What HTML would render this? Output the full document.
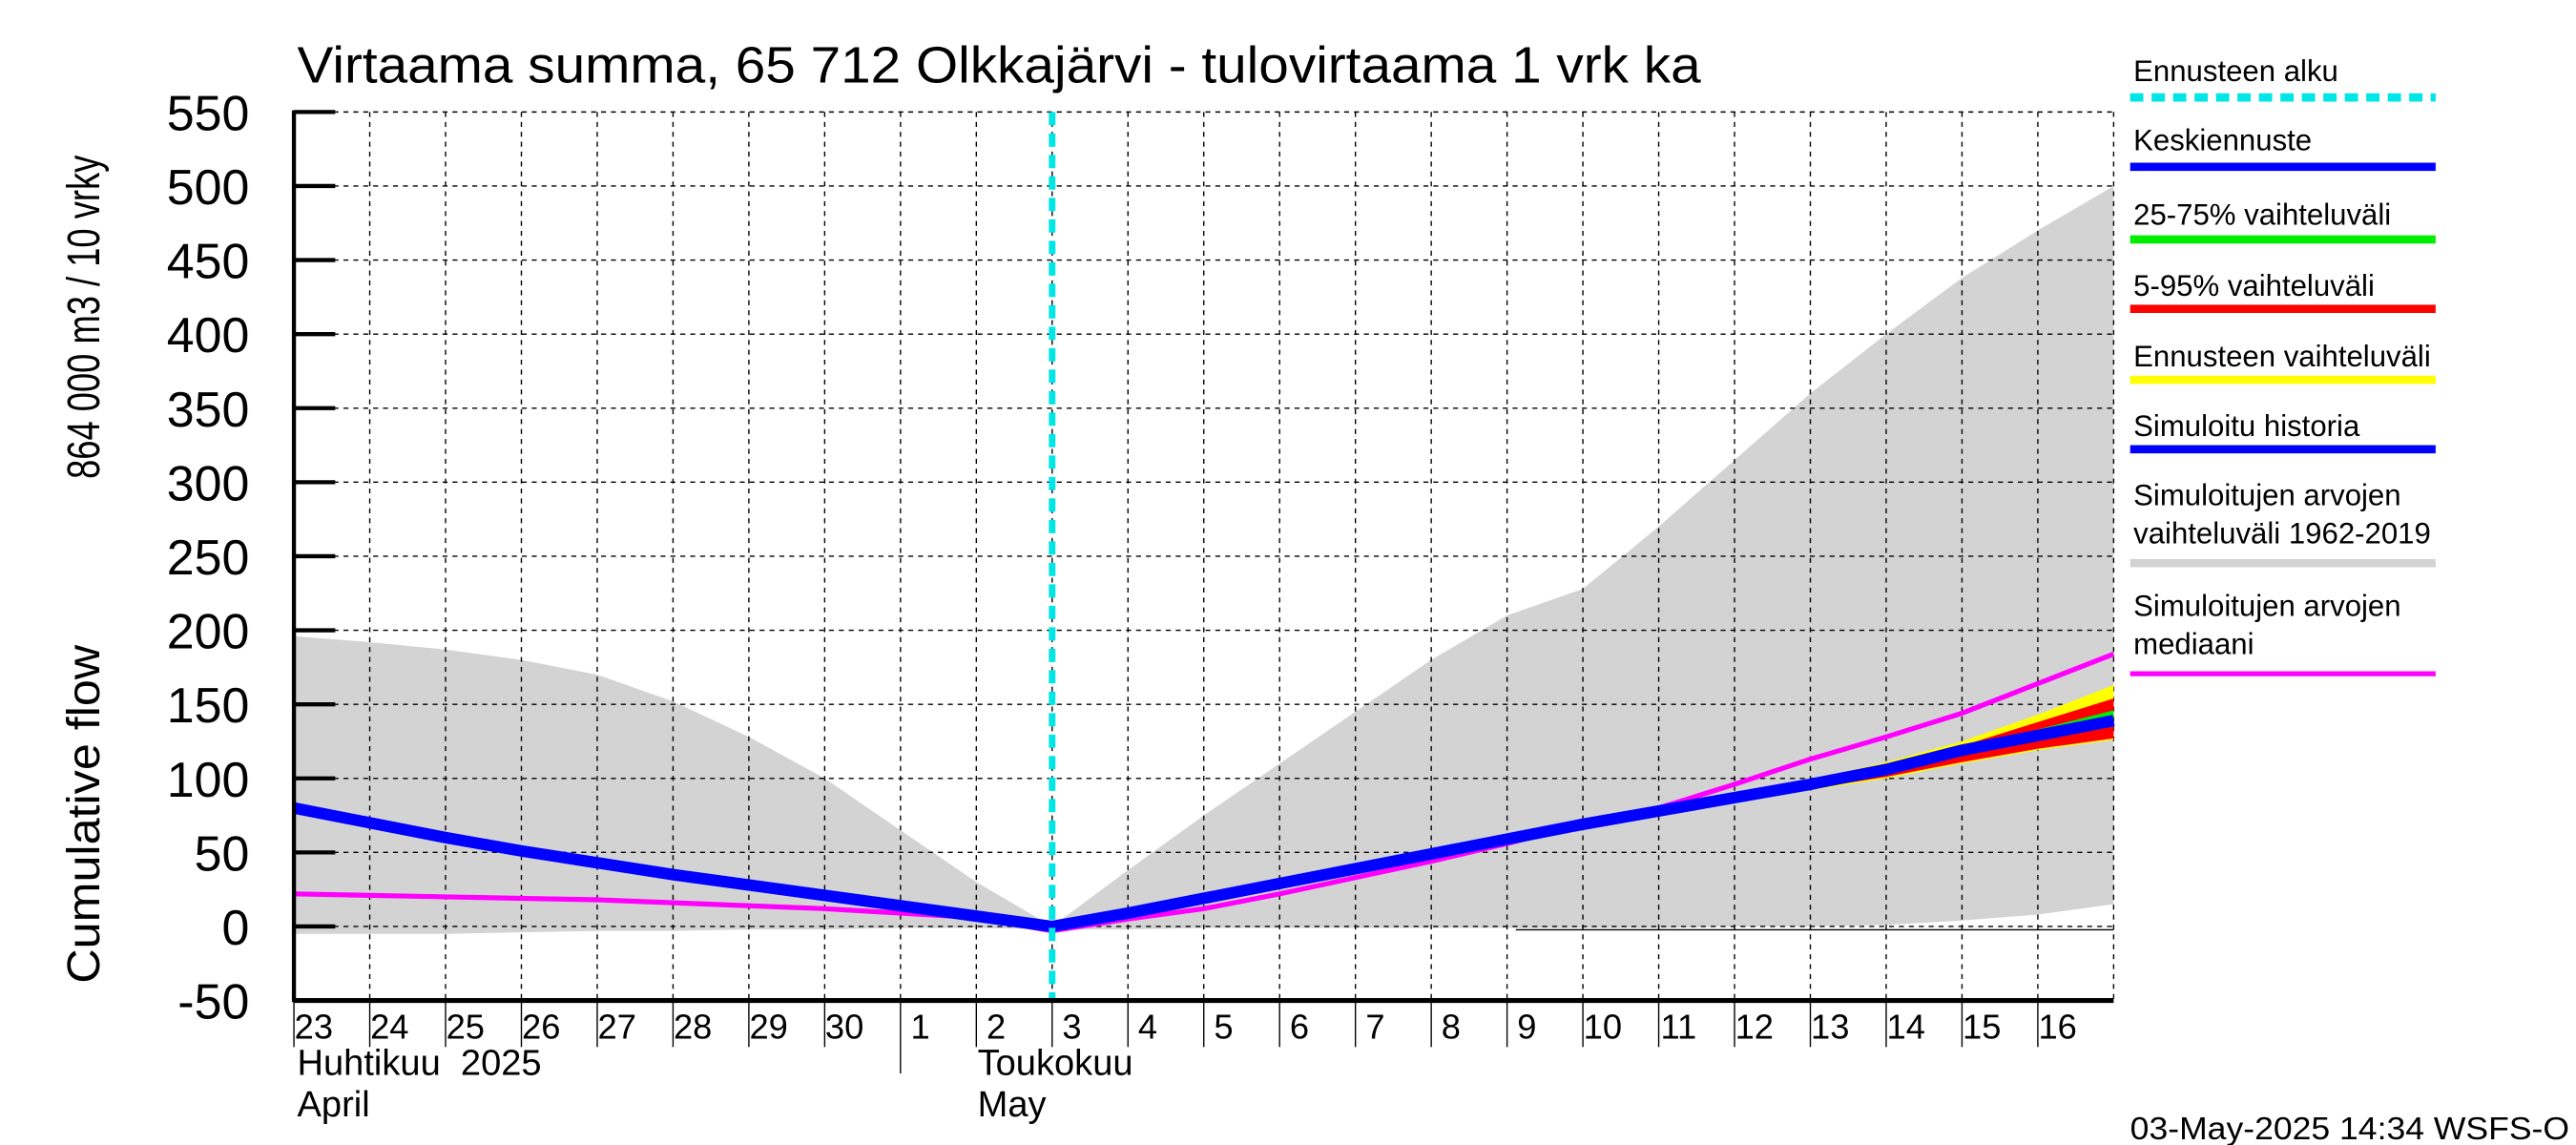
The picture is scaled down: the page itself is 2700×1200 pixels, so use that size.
<!DOCTYPE html>
<html><head><meta charset="utf-8"><style>html,body{margin:0;padding:0;background:#fff}svg{display:block}text{font-family:"Liberation Sans Narrow","Liberation Sans",sans-serif;fill:#000}</style></head>
<body>
<svg id="chart" xmlns="http://www.w3.org/2000/svg" width="2700" height="1200" viewBox="0 0 1560 693.33" preserveAspectRatio="none">
<g id="plot"></g>
<g id="axes"></g>
<g id="legend"></g>
<text x="180" y="50" font-size="31" textLength="850" lengthAdjust="spacingAndGlyphs">Virtaama summa, 65 712 Olkkajärvi - tulovirtaama 1 vrk ka</text>
<text transform="translate(60,192) rotate(-90)" text-anchor="middle" font-size="28" textLength="196" lengthAdjust="spacingAndGlyphs">864 000 m3 / 10 vrky</text>
<text transform="translate(60,493) rotate(-90)" text-anchor="middle" font-size="28" textLength="205" lengthAdjust="spacingAndGlyphs">Cumulative flow</text>
<text x="180" y="651" font-size="22">Huhtikuu&#160; 2025</text>
<text x="180" y="676" font-size="22">April</text>
<text x="592" y="651" font-size="22">Toukokuu</text>
<text x="592" y="676" font-size="22">May</text>
<text x="1290" y="690" font-size="19" textLength="266" lengthAdjust="spacingAndGlyphs">03-May-2025 14:34 WSFS-O</text>
</svg>
<script>
const dayLabels=["23","24","25","26","27","28","29","30","1","2","3","4","5","6","7","8","9","10","11","12","13","14","15","16"];
const yTicks=[550,500,450,400,350,300,250,200,150,100,50,0,-50];
const forecastStartIdx=10;
const blueSeries=[80,70,60,51,43,35,28,21,14,7,0,9,19,29,39,49,59,69,78,87,96,106,119,129,139];
const medianSeries=[22,21,20,19,18,16,14,12,9,6,-3,5,12,22,33,44,56,69,80,96,113,128,144,164,184];
const grayHi=[196,192,187,180,170,152,128,100,65,30,0,38,75,110,145,180,210,228,270,315,360,400,438,470,500];
const grayLo=[-5,-5,-5,-4,-3,-3,-2,-2,-1,-1,-2,-2,-1,-1,-1,-1,-1,-1,-1,0,0,1,4,8,15];
const yellowHi=[0,9,19,29,39,49,59,70,79,89,99,111,125,143,163];
const yellowLo=[0,9,19,28,38,48,58,68,77,85,92,100,110,119,126];
const redHi=[0,9,19,29,39,49,59,70,79,89,98,109,122,138,154];
const redLo=[0,9,19,28,38,48,58,68,77,85,93,101,111,120,127];
const greenHi=[0,9,19,29,39,49,59,69,78,88,97,107,120,133,146];
const greenLo=[0,9,19,29,39,49,59,69,78,87,95,104,116,126,135];

const NS="http://www.w3.org/2000/svg";
const X0=178,X1=1280,DW=(X1-X0)/24;
const x=i=>X0+i*DW;
const y=v=>561-v*0.8967;
function mk(tag,attrs,parent){const e=document.createElementNS(NS,tag);for(const k in attrs)e.setAttribute(k,attrs[k]);parent.appendChild(e);return e;}
const plot=document.getElementById('plot'),axes=document.getElementById('axes'),legend=document.getElementById('legend');
function band(hi,lo,off,color,name){
  let p=hi.map((v,i)=>x(i+off)+','+y(v));
  for(let i=lo.length-1;i>=0;i--)p.push(x(i+off)+','+y(lo[i]));
  const e=mk('polygon',{points:p.join(' '),fill:color},plot);
  
  
}
function line(arr,off,color,w,name){
  const e=mk('polyline',{points:arr.map((v,i)=>x(i+off)+','+y(v)).join(' '),fill:'none',stroke:color,'stroke-width':w,'stroke-linejoin':'round'},plot);
  
  
}
band(grayHi,grayLo,0,'#d3d3d3','simulated-range-band');
yTicks.forEach(v=>{const g=mk('line',{x1:X0,x2:X1,y1:y(v),y2:y(v),stroke:'#000','stroke-width':0.8,'stroke-dasharray':'3,3'},plot);

});
for(let i=1;i<=24;i++){const g=mk('line',{x1:x(i),x2:x(i),y1:y(550),y2:y(-50),stroke:'#000','stroke-width':0.8,'stroke-dasharray':'3,3'},plot);

}
const zl=mk('line',{x1:918,x2:X1,y1:y(0)+2,y2:y(0)+2,stroke:'#000','stroke-width':0.8},plot);


band(yellowHi,yellowLo,forecastStartIdx,'#ffff00','forecast-range-band');
band(redHi,redLo,forecastStartIdx,'#ff0000','band-5-95');
band(greenHi,greenLo,forecastStartIdx,'#00ee00','band-25-75');
line(medianSeries,0,'#ff00ff',3,'median-line');
line(blueSeries,0,'#0000ff',7,'mean-forecast-line');
const fl=mk('line',{x1:x(forecastStartIdx),x2:x(forecastStartIdx),y1:y(550),y2:y(-50),stroke:'#00e5e5','stroke-width':4,'stroke-dasharray':'8,5'},plot);


let a=mk('line',{x1:X0,x2:X0,y1:y(550)-1,y2:y(-50)+1,stroke:'#000','stroke-width':2.5},axes);


a=mk('line',{x1:X0,x2:X1,y1:y(-50),y2:y(-50),stroke:'#000','stroke-width':3},axes);


yTicks.forEach(v=>{
  const t=mk('line',{x1:X0,x2:X0+25,y1:y(v),y2:y(v),stroke:'#000','stroke-width':2.5},axes);
  
  
  const l=mk('text',{x:151,y:y(v)+11,'text-anchor':'end','font-size':30},axes);l.textContent=v;
  
  
});
dayLabels.forEach((d,i)=>{
  const t=mk('line',{x1:x(i),x2:x(i),y1:y(-50),y2:(i==8?650:634),stroke:'#000','stroke-width':0.8},axes);
  
  
  const l=mk('text',{x:x(i)+12,y:629,'text-anchor':'middle','font-size':21},axes);l.textContent=d;
  
  
});
const leg=[[["Ennusteen alku"],43,59,'#00e5e5',true],[["Keskiennuste"],85,101,'#0000ff'],[["25-75% vaihteluväli"],130,145,'#00ee00'],[["5-95% vaihteluväli"],173,187,'#ff0000'],[["Ennusteen vaihteluväli"],216,230,'#ffff00'],[["Simuloitu historia"],258,272,'#0000ff'],[["Simuloitujen arvojen","vaihteluväli 1962-2019"],300,341,'#d3d3d3'],[["Simuloitujen arvojen","mediaani"],367,408,'#ff00ff']];
leg.forEach(e=>{
  e[0].forEach((s,k)=>{const t=mk('text',{x:1292,y:e[1]+6+k*23,'font-size':18},legend);t.textContent=s;
  
  });
  const l=mk('line',{x1:1290,x2:1475,y1:e[2],y2:e[2],stroke:e[3],'stroke-width':e[3]=='#ff00ff'?3:5},legend);
  if(e[4])l.setAttribute('stroke-dasharray','8,5');
  
  
});
</script>
</body></html>
